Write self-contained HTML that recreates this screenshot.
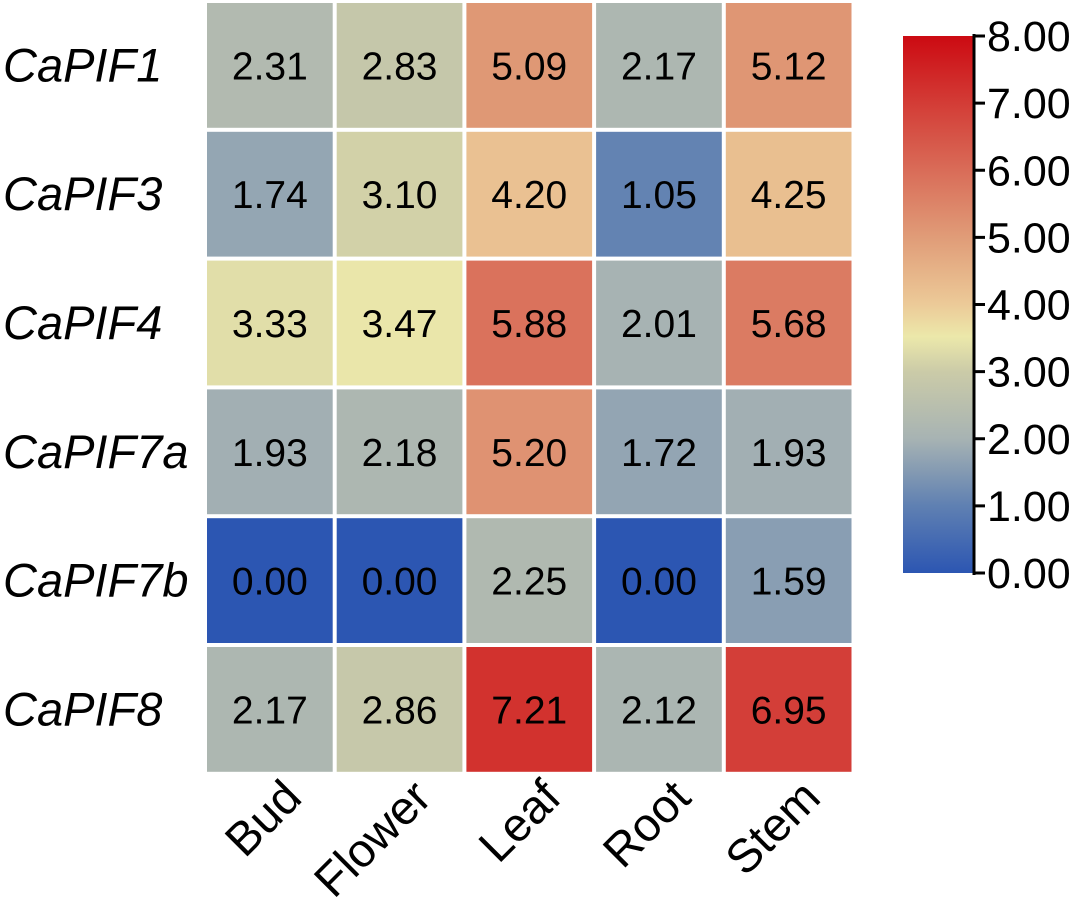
<!DOCTYPE html>
<html><head><meta charset="utf-8"><style>
html,body{margin:0;padding:0;background:#fff;width:1077px;height:924px;overflow:hidden}
text{font-family:"Liberation Sans",Arial,sans-serif}
</style></head><body>
<svg id="chart" width="1077" height="924" xmlns="http://www.w3.org/2000/svg">
<defs>
<linearGradient id="cbar" x1="0" y1="1" x2="0" y2="0">
<stop offset="0" stop-color="#2c56b2"/>
<stop offset="0.125" stop-color="#5f80b2"/>
<stop offset="0.25" stop-color="#a7b3b3"/>
<stop offset="0.375" stop-color="#cbcba8"/>
<stop offset="0.44" stop-color="#ece8aa"/>
<stop offset="0.5" stop-color="#ecca98"/>
<stop offset="0.625" stop-color="#e09c78"/>
<stop offset="0.75" stop-color="#d96c58"/>
<stop offset="0.875" stop-color="#d33c36"/>
<stop offset="1" stop-color="#cc0a12"/>
</linearGradient>
</defs>
<g id="cells"></g>
<g id="labels"></g>
<rect x="903" y="36" width="70" height="537" fill="url(#cbar)"/>
<line x1="974" y1="34" x2="974" y2="575" stroke="#000" stroke-width="3"/>
<g id="cbticks"></g>
</svg>
<script>
const genes = ["CaPIF1","CaPIF3","CaPIF4","CaPIF7a","CaPIF7b","CaPIF8"];
const tissues = ["Bud","Flower","Leaf","Root","Stem"];
const values = [
 [2.31,2.83,5.09,2.17,5.12],
 [1.74,3.10,4.20,1.05,4.25],
 [3.33,3.47,5.88,2.01,5.68],
 [1.93,2.18,5.20,1.72,1.93],
 [0.00,0.00,2.25,0.00,1.59],
 [2.17,2.86,7.21,2.12,6.95]
];
const cbTicks = [0,1,2,3,4,5,6,7,8];
const stops=[[0,[44,86,178]],[1,[95,128,178]],[2,[167,179,179]],[3,[203,203,168]],[3.5,[236,232,170]],[4,[236,202,152]],[5,[224,156,120]],[6,[217,108,88]],[7,[211,60,54]],[8,[204,10,18]]];
function color(v){for(let i=1;i<stops.length;i++){if(v<=stops[i][0]){const a=stops[i-1],b=stops[i],t=(v-a[0])/(b[0]-a[0]);return 'rgb('+a[1].map((c,k)=>Math.round(c+(b[1][k]-c)*t)).join(',')+')';}}return 'rgb(204,10,18)';}
const NS="http://www.w3.org/2000/svg";
const x0=205,y0=1,pw=129.7,ph=128.8;
const xPos=j=>x0+j*pw, yPos=i=>y0+i*ph;
const cells=document.getElementById('cells'),labels=document.getElementById('labels');
function mk(tag,attrs,parent){const e=document.createElementNS(NS,tag);for(const k in attrs)e.setAttribute(k,attrs[k]);parent.appendChild(e);return e;}
values.forEach((row,i)=>row.forEach((v,j)=>{
 const r=mk('rect',{x:xPos(j)+2,y:yPos(i)+2,width:pw-4,height:ph-4,fill:color(v)},cells);
 
 
 const t=mk('text',{x:xPos(j)+pw/2,y:yPos(i)+ph/2+14,'text-anchor':'middle','font-size':39,fill:'#000'},cells);
 t.textContent=v.toFixed(2);
 
 
}));
genes.forEach((g,i)=>{
 const t=mk('text',{x:3,y:yPos(i)+ph/2+16,'font-size':47,'font-style':'italic',fill:'#000'},labels);
 t.textContent=g;
 
 
});
tissues.forEach((s,j)=>{
 const cx=xPos(j)+pw/2+34, cy=800;
 const t=mk('text',{x:cx,y:cy,'text-anchor':'end','font-size':47,fill:'#000',transform:'rotate(-45 '+cx+' '+cy+')'},labels);
 t.textContent=s;
 
 
});
const cb=document.getElementById('cbticks');
const cbY=v=>573-v*(537/8);
cbTicks.forEach(v=>{
 const l=mk('line',{x1:974,x2:985,y1:cbY(v),y2:cbY(v),stroke:'#000','stroke-width':3},cb);
 
 
 const t=mk('text',{x:987,y:cbY(v)+15,'font-size':43,fill:'#000'},cb);
 t.textContent=v.toFixed(2);
 
 
});
</script>
</body></html>
